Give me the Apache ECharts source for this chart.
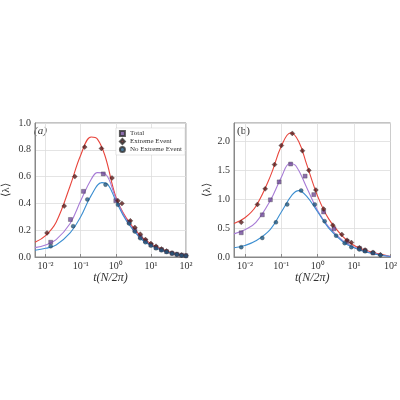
<!DOCTYPE html>
<html><head><meta charset="utf-8">
<script src="https://cdn.jsdelivr.net/npm/echarts@6/dist/echarts.min.js"></script>
<style>html,body{margin:0;background:#fff}#c{width:400px;height:400px}</style>
</head><body><div id="c"></div>
<script>
// Panel (a)
const aRedCurve=[[0.005,0.11],[0.01,0.16],[0.02,0.26],[0.05,0.53],[0.1,0.76],[0.2,0.895],[0.3,0.88],[0.5,0.75],[1,0.45],[2,0.29],[5,0.16],[10,0.10],[20,0.06],[50,0.025],[100,0.01]];
const aRedPts=[[0.011,0.18],[0.034,0.38],[0.068,0.60],[0.13,0.82],[0.39,0.81],[0.78,0.59],[1.15,0.42],[1.5,0.40],[2.6,0.27],[3.5,0.22],[5,0.17],[7,0.13],[10,0.10],[14,0.08],[20,0.06],[28,0.045],[40,0.03],[55,0.02],[75,0.015],[100,0.01]];
const aPurCurve=[[0.005,0.07],[0.01,0.09],[0.02,0.13],[0.05,0.25],[0.1,0.42],[0.2,0.58],[0.3,0.63],[0.5,0.62],[1,0.44],[2,0.28],[5,0.15],[10,0.09],[20,0.055],[50,0.02],[100,0.01]];
const aPurPts=[[0.014,0.11],[0.051,0.28],[0.12,0.49],[0.44,0.62],[1.0,0.42],[2.4,0.26],[3.5,0.2],[5,0.15],[7,0.12],[10,0.09],[14,0.07],[20,0.055],[28,0.04],[40,0.028],[55,0.02],[75,0.014],[100,0.01]];
const aBluCurve=[[0.005,0.05],[0.01,0.065],[0.02,0.09],[0.05,0.18],[0.1,0.30],[0.2,0.46],[0.4,0.555],[0.6,0.54],[1,0.42],[2,0.27],[5,0.14],[10,0.085],[20,0.05],[50,0.02],[100,0.008]];
const aBluPts=[[0.014,0.08],[0.061,0.23],[0.155,0.43],[0.51,0.54],[1.15,0.39],[2.4,0.25],[3.5,0.19],[5,0.14],[7,0.11],[10,0.085],[14,0.065],[20,0.05],[28,0.038],[40,0.026],[55,0.018],[75,0.012],[100,0.008]];
// Panel (b)
const bRedCurve=[[0.005,0.58],[0.01,0.68],[0.02,0.88],[0.05,1.4],[0.1,1.92],[0.18,2.15],[0.3,2.0],[0.5,1.6],[1,1.05],[2,0.66],[5,0.35],[10,0.2],[20,0.12],[50,0.05],[100,0.01]];
const bRedPts=[[0.0079,0.6],[0.022,0.91],[0.036,1.18],[0.065,1.6],[0.10,1.93],[0.2,2.14],[0.38,1.84],[0.57,1.5],[0.89,1.16],[1.45,0.83],[2.6,0.55],[4.6,0.39],[6.4,0.29],[8.4,0.25],[14,0.16],[20,0.12],[33,0.08],[53,0.04]];
const bPurCurve=[[0.005,0.4],[0.01,0.47],[0.02,0.6],[0.05,0.98],[0.1,1.38],[0.17,1.62],[0.25,1.58],[0.5,1.2],[1,0.8],[2,0.52],[5,0.28],[10,0.17],[20,0.1],[50,0.04],[100,0.01]];
const bPurPts=[[0.0079,0.42],[0.03,0.73],[0.05,0.99],[0.087,1.3],[0.18,1.61],[0.45,1.4],[0.78,1.08],[1.45,0.78],[2.8,0.49],[6.4,0.27],[14,0.15],[20,0.11],[33,0.07]];
const bBluCurve=[[0.005,0.16],[0.01,0.2],[0.02,0.28],[0.05,0.48],[0.1,0.78],[0.2,1.08],[0.3,1.15],[0.5,1.05],[1,0.78],[2,0.5],[5,0.26],[10,0.16],[20,0.09],[50,0.035],[100,0.008]];
const bBluPts=[[0.0079,0.17],[0.03,0.33],[0.071,0.6],[0.145,0.91],[0.35,1.15],[0.83,0.91],[1.55,0.62],[3.2,0.37],[5.5,0.24],[8.4,0.17],[14,0.13],[20,0.1],[33,0.07],[53,0.03]];

const F='Liberation Serif';
const sup={'-':'⁻','0':'⁰','1':'¹','2':'²'};
function fmt(v){const e=Math.log10(v);if(Math.abs(e-Math.round(e))>1e-6)return '';return '10'+String(Math.round(e)).split('').map(c=>sup[c]).join('');}
const C={red:'#e8453c',pur:'#a77bd6',blu:'#3d8fd1',redM:'#5a1a1a',purM:'#6f4a98',bluM:'#1f5a85'};
function xAx(i){return {type:'log',gridIndex:i,min:0.005,max:100,logBase:10,
 name:'t(N/2π)',nameLocation:'middle',nameGap:15,nameTextStyle:{fontFamily:F,fontStyle:'italic',fontSize:12,color:'#333'},
 axisLine:{lineStyle:{color:'#888'}},axisTick:{inside:true,length:3,lineStyle:{color:'#888'}},
 axisLabel:{formatter:fmt,fontFamily:F,fontSize:10,color:'#333',margin:4,showMinLabel:true},
 splitLine:{show:true,lineStyle:{color:'#ddd',width:0.8}}};}
function yAx(i,max,iv){return {type:'value',gridIndex:i,min:0,max:max,interval:iv,
 name:'⟨λ⟩',nameLocation:'middle',nameGap:i?21:23,nameRotate:90,nameTextStyle:{fontFamily:F,fontSize:11,color:'#333'},
 axisLine:{show:true,lineStyle:{color:'#888'}},axisTick:{show:false},
 axisLabel:{fontFamily:F,fontSize:10,color:'#333',margin:4,showMaxLabel:i?false:true,formatter:v=>v.toFixed(1)},
 splitLine:{lineStyle:{color:'#ddd',width:0.8}}};}
function line(d,c,i){return {type:'line',xAxisIndex:i,yAxisIndex:i,data:d,smooth:0.4,showSymbol:false,lineStyle:{color:c,width:1.1},z:2};}
function pts(name,d,sym,c,i,sz){return {name:name,type:'scatter',xAxisIndex:i,yAxisIndex:i,data:d,symbol:sym,symbolSize:sz,itemStyle:{color:c,borderColor:'#333',borderWidth:0.4},z:3};}
const chart=echarts.init(document.getElementById('c'));
chart.setOption({animation:false,
 grid:[{left:31,top:123,width:155,height:134,show:true,borderColor:'#888',borderWidth:1},
       {left:234,top:123,width:159,height:134,show:true,borderColor:'#888',borderWidth:1}],
 xAxis:[xAx(0),xAx(1)],yAxis:[yAx(0,1.0,0.2),yAx(1,2.32,0.5)],
 legend:{right:215,top:128,orient:'vertical',itemGap:1,itemWidth:5,itemHeight:5,padding:[2,3],
  backgroundColor:'#fff',borderColor:'#ccc',borderWidth:0.5,
  textStyle:{fontFamily:F,fontSize:7,color:'#333'},
  data:[{name:'Total'},{name:'Extreme Event'},{name:'No Extreme Event'}]},
 graphic:[{type:'text',left:34,top:126,style:{text:'(a)',font:'italic 11px "Liberation Serif"',fill:'#333'}},
          {type:'text',left:237,top:126,style:{text:'(b)',font:'11px "Liberation Serif"',fill:'#333'}}],
 series:[line(aRedCurve,C.red,0),line(aPurCurve,C.pur,0),line(aBluCurve,C.blu,0),
  pts('Total',aPurPts,'rect',C.purM,0,4),pts('Extreme Event',aRedPts,'diamond',C.redM,0,5),pts('No Extreme Event',aBluPts,'circle',C.bluM,0,4),
  line(bRedCurve,C.red,1),line(bPurCurve,C.pur,1),line(bBluCurve,C.blu,1),
  pts('Total',bPurPts,'rect',C.purM,1,4),pts('Extreme Event',bRedPts,'diamond',C.redM,1,5),pts('No Extreme Event',bBluPts,'circle',C.bluM,1,4)]
});
</script></body></html>
